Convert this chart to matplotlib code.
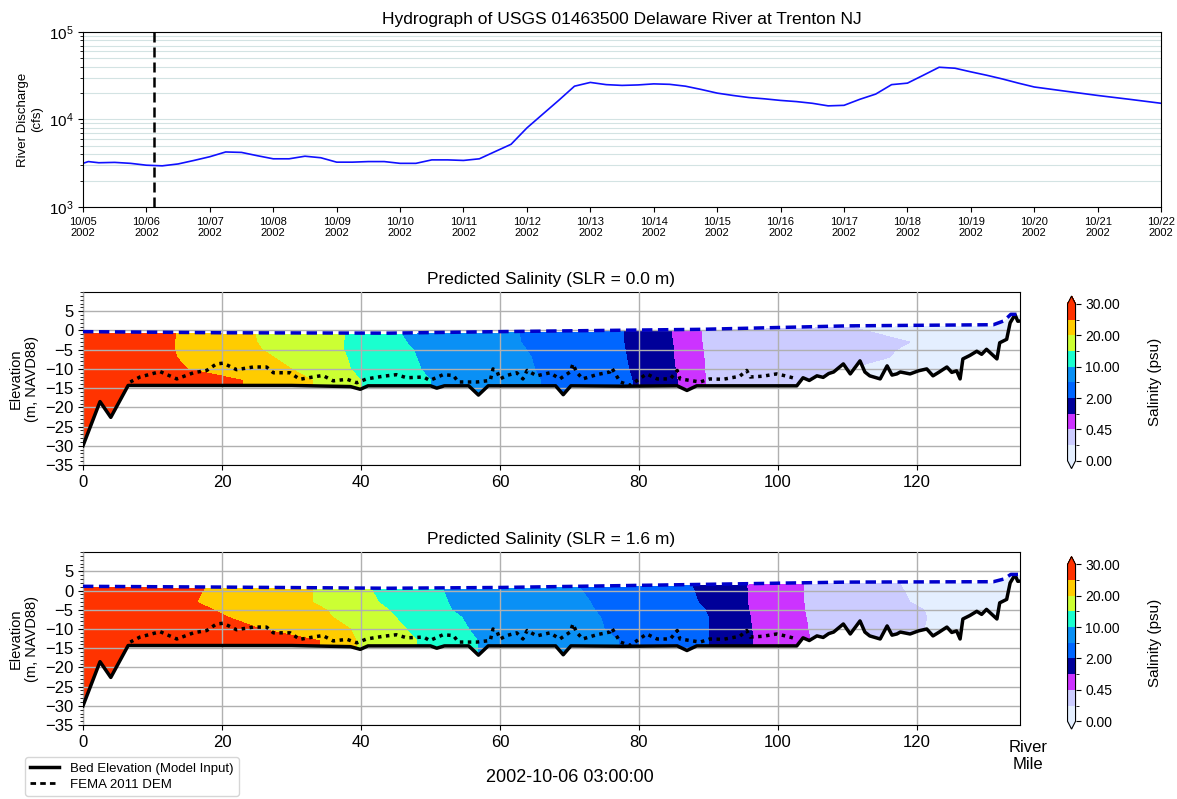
import numpy as np
import matplotlib
matplotlib.use('Agg')
import matplotlib.pyplot as plt
import matplotlib.dates as mdates
from matplotlib.colors import ListedColormap, BoundaryNorm
from matplotlib.ticker import AutoMinorLocator, LogLocator, NullFormatter
from matplotlib.lines import Line2D
from datetime import datetime

plt.rcParams['font.family'] = ['Liberation Sans', 'DejaVu Sans']

# ---- hydrograph (USGS 01463500) ----
q_time = ['2002-10-05 00', '2002-10-05 02', '2002-10-05 06', '2002-10-05 12', '2002-10-05 18',
          '2002-10-06 00', '2002-10-06 06', '2002-10-06 12', '2002-10-06 18',
          '2002-10-07 00', '2002-10-07 06', '2002-10-07 12', '2002-10-07 18',
          '2002-10-08 00', '2002-10-08 06', '2002-10-08 12', '2002-10-08 18',
          '2002-10-09 00', '2002-10-09 06', '2002-10-09 12', '2002-10-09 18',
          '2002-10-10 00', '2002-10-10 06', '2002-10-10 12', '2002-10-10 18',
          '2002-10-11 00', '2002-10-11 06', '2002-10-11 12', '2002-10-11 18',
          '2002-10-12 00', '2002-10-12 06', '2002-10-12 12', '2002-10-12 18',
          '2002-10-13 00', '2002-10-13 06', '2002-10-13 12', '2002-10-13 18',
          '2002-10-14 00', '2002-10-14 06', '2002-10-14 12', '2002-10-14 18',
          '2002-10-15 00', '2002-10-15 06', '2002-10-15 12', '2002-10-15 18',
          '2002-10-16 00', '2002-10-16 06', '2002-10-16 12', '2002-10-16 18',
          '2002-10-17 00', '2002-10-17 06', '2002-10-17 12', '2002-10-17 18',
          '2002-10-18 00', '2002-10-18 06', '2002-10-18 12', '2002-10-18 18',
          '2002-10-19 00', '2002-10-19 06', '2002-10-19 12', '2002-10-19 18',
          '2002-10-20 00', '2002-10-20 12', '2002-10-21 00', '2002-10-21 12', '2002-10-22 00']
q_cfs = [3150, 3300, 3200, 3230, 3150,
         3000, 2950, 3100, 3400,
         3750, 4250, 4200, 3850,
         3550, 3550, 3800, 3650,
         3250, 3250, 3300, 3300,
         3150, 3150, 3450, 3450,
         3400, 3550, 4300, 5200,
         8000, 11500, 16500, 24000,
         26500, 25000, 24500, 24800,
         25500, 25200, 24000, 22000,
         20000, 18800, 17800, 17200,
         16500, 16000, 15300, 14300,
         14500, 17000, 19500, 25000,
         26000, 32000, 39500, 38500,
         35000, 32000, 29000, 26000,
         23500, 21000, 18800, 17000, 15300]
now_time = '2002-10-06 03:00:00'

# ---- river profile ----
bed_mile = [0, 2.45, 4.0, 6.5, 30, 38.5, 39.9, 41, 50, 50.9, 52, 55.5, 56.9, 58.3, 68, 69.1, 70.2,
            77.7, 85.5, 86.9, 88.3, 102.7, 103.6, 104.5, 105.6, 106.5, 107.3, 108, 109.4, 110.4,
            111.8, 112.5, 113.2, 114.7, 115.7, 116.4, 117.1, 117.6, 119, 120.2, 121.4, 122.3, 123.2,
            124.3, 125.0, 125.7, 126.2, 126.6, 127.6, 128.6, 129.3, 130, 131.5, 131.9, 132.9, 133.4,
            134.1, 134.5, 135]
bed_elev = [-30, -18.5, -22.6, -14.3, -14.3, -14.6, -15.3, -14.4, -14.4, -15.0, -14.4, -14.4, -16.8,
            -14.4, -14.4, -16.7, -14.4, -14.5, -14.4, -15.6, -14.4, -14.4, -12.3, -13.0, -11.8, -12.2,
            -11.2, -10.8, -8.7, -11.3, -7.9, -10.8, -11.8, -12.6, -9.2, -11.6, -11.3, -10.8, -11.3,
            -10.5, -10, -11.8, -10.8, -9.5, -10.9, -10.5, -12.6, -7.4, -6.5, -5.4, -6.2, -4.9, -7.4,
            -3.2, -2.3, 2, 4.1, 2.4, 2.5]

fema_mile = [6.8, 8.2, 11.1, 13.5, 15.9, 17.8, 19.2, 20.2, 22.1, 24.5, 26.4, 27.4, 29.8, 31.2, 33.1,
             34.5, 36, 38, 39.4, 40.8, 43.2, 45.1, 46.6, 49, 49.9, 51.8, 53.3, 54, 56.7, 58.6, 59,
             59.6, 60, 61, 62.4, 63.3, 63.9, 65.3, 67.2, 68.6, 70.1, 70.5, 71, 71.9, 73.9, 75.8,
             76.1, 77.3, 78.7, 81.1, 82.6, 84.5, 85.5, 85.9, 88.8, 90.2, 92.1, 94.5, 95.5, 96,
             97.8, 99.8, 100.8, 101.7, 102.7]
fema_elev = [-13.4, -12.1, -10.7, -12.6, -11, -10.4, -8.7, -8.5, -10.2, -9.5, -9.5, -11, -11, -12.7,
             -12.1, -11.7, -13.1, -12.7, -13.6, -12.6, -11.9, -11.5, -12.3, -12.1, -13, -11.5, -11.7,
             -13.4, -13.4, -13, -10, -10.8, -12.6, -11.7, -11, -12.6, -10.4, -11.8, -11, -12.6,
             -10.8, -8.7, -10.8, -12.6, -11.5, -10.8, -9.8, -13.4, -14.3, -11.3, -12.6, -12.6,
             -10.4, -12.6, -13.4, -12.6, -12.7, -11.9, -10.4, -12.1, -11.9, -11.3, -11.7, -12.1, -12.6]

surf_mile = [0, 20, 44, 60, 89, 110, 131, 132.5, 133.5, 135]
surf_slr0 = [-0.3, -0.6, -0.7, -0.3, 0.3, 1.2, 1.5, 2.5, 4.2, 4.2]
surf_slr16 = [1.1, 0.9, 0.6, 0.8, 1.6, 2.2, 2.3, 3.0, 4.2, 4.2]

# salinity isohaline positions (river mile) at reference elevations
sal_levels = [0, 0.2, 0.45, 1, 2, 5, 10, 15, 20, 25, 30]
sal_colors = ['#e4efff', '#ccccff', '#cc33ff', '#000099', '#0066ff', '#0a90f5',
              '#1affcf', '#ccff33', '#ffcc00', '#ff3300']
iso_z = [-35, -13, -10, -7, -5, -3, 2]
iso_vals = [25, 20, 15, 10, 5, 2, 1, 0.45, 0.2]
iso_slr0 = [
    [23, 23, 15, 13.5, 13.2, 13.2, 13.5],
    [33, 33, 30, 27.5, 25.8, 25, 24.5],
    [40, 40, 38.5, 38, 37.5, 37.5, 38],
    [50, 50, 48.6, 48, 47.5, 46.5, 45],
    [65.8, 65.8, 65, 64.5, 63.8, 63, 62.5],
    [79, 79, 78.5, 78.2, 78, 77.8, 77.7],
    [85.5, 85.5, 85.2, 85, 85, 84.8, 84.5],
    [89.6, 89.6, 89.4, 89.3, 89.2, 89, 89],
    [104, 104, 110, 116, 117, 119, 108],
]
iso_slr16 = [
    [34, 34, 25.5, 21, 18.7, 16.4, 17.8],
    [39.3, 39.3, 38.5, 36, 35, 33, 33.1],
    [48, 48, 46.5, 45, 44, 42.5, 41],
    [56.7, 56.7, 55.5, 54.5, 53, 52.5, 51.4],
    [77, 77, 75, 74.5, 73.6, 73, 71],
    [90, 90, 90, 90, 89.5, 88.5, 87.5],
    [96.4, 96.4, 96.2, 96, 95.8, 95.6, 95.5],
    [104.6, 104.6, 104.3, 104, 103.8, 103.7, 103.6],
    [120.4, 120.4, 121, 121.4, 121, 119, 117.5],
]


def salinity_field(iso, surf):
    x = np.linspace(0, 135, 1351)
    z = np.linspace(-35, 10, 451)
    S = np.zeros((len(z), len(x)))
    for i, zz in enumerate(z):
        pos = [np.interp(zz, iso_z, row) for row in iso]
        S[i] = np.interp(x, [0] + pos + [135], [29.9] + iso_vals + [0.01])
    X, Z = np.meshgrid(x, z)
    bed = np.interp(x, bed_mile, bed_elev)
    top = np.interp(x, surf_mile, surf) - 0.3
    mask = (Z < bed[None, :]) | (Z > top[None, :])
    return X, Z, np.ma.masked_array(S, mask)


fig = plt.figure(figsize=(11.77, 7.99), dpi=100)

# ---- top: hydrograph ----
ax0 = fig.add_axes([0.0705, 0.741, 0.916, 0.219])
t = [datetime.strptime(s, '%Y-%m-%d %H') for s in q_time]
ax0.plot(t, q_cfs, color='#1010ff', lw=1.2)
tnow = datetime.strptime(now_time, '%Y-%m-%d %H:%M:%S')
ax0.axvline(tnow, color='k', lw=1.8, ls=(0, (4, 2)))
ax0.set_yscale('log')
ax0.set_ylim(1e3, 1e5)
ax0.set_xlim(datetime(2002, 10, 5), datetime(2002, 10, 22))
ax0.yaxis.set_minor_locator(LogLocator(base=10, subs=np.arange(2, 10)))
ax0.yaxis.set_minor_formatter(NullFormatter())
ax0.grid(True, which='both', axis='y', color='#d3e3e3', lw=0.8)
ax0.xaxis.set_major_locator(mdates.DayLocator())
ax0.xaxis.set_major_formatter(mdates.DateFormatter('%m/%d\n%Y'))
ax0.tick_params(axis='x', labelsize=8)
ax0.tick_params(axis='y', labelsize=11)
ax0.set_ylabel('River Discharge\n(cfs)', fontsize=9.5)
ax0.set_title('Hydrograph of USGS 01463500 Delaware River at Trenton NJ', fontsize=12.5)

cmap = ListedColormap(sal_colors)
cmap.set_under('#e4efff')
cmap.set_over('#ff3300')
norm = BoundaryNorm(sal_levels, cmap.N)

panels = [
    (0.418, 0.4135, iso_slr0, surf_slr0, 'Predicted Salinity (SLR = 0.0 m)'),
    (0.0925, 0.0875, iso_slr16, surf_slr16, 'Predicted Salinity (SLR = 1.6 m)'),
]
for bottom, cb_bottom, iso, surf, title in panels:
    ax = fig.add_axes([0.0705, bottom, 0.796, 0.2165])
    X, Z, S = salinity_field(iso, surf)
    cs = ax.contourf(X, Z, S, levels=sal_levels, cmap=cmap, norm=norm, extend='both')
    ax.plot(bed_mile, bed_elev, color='k', lw=2.5, zorder=5)
    ax.plot(fema_mile, fema_elev, color='k', lw=2.5, ls=(0, (1, 1.3)), zorder=5)
    ax.plot(surf_mile, surf, color='#0000cc', lw=2.5, ls=(0, (3, 1.6)), zorder=5)
    ax.set_xlim(0, 134.8)
    ax.set_ylim(-35, 10)
    ax.set_yticks(np.arange(-35, 6, 5))
    ax.set_xticks(np.arange(0, 121, 20))
    ax.yaxis.set_minor_locator(AutoMinorLocator(5))
    ax.grid(True, color='#b0b0b0', lw=1, zorder=3)
    ax.set_axisbelow(False)
    ax.tick_params(labelsize=12)
    ax.set_ylabel('Elevation\n(m, NAVD88)', fontsize=10.5)
    ax.set_title(title, fontsize=12.5)

    cax = fig.add_axes([0.907, cb_bottom, 0.0068, 0.216])
    cb = fig.colorbar(cs, cax=cax, ticks=[0, 0.45, 2, 10, 20, 30], format='%.2f')
    cb.ax.tick_params(labelsize=10)
    cb.set_label('Salinity (psu)', fontsize=11, labelpad=20)

fig.text(1028 / 1177, 1 - 756 / 799, 'River\nMile', ha='center', va='center', fontsize=12)
fig.text(570 / 1177, 1 - 777 / 799, now_time, ha='center', va='center', fontsize=13)

handles = [Line2D([], [], color='k', lw=2.5),
           Line2D([], [], color='k', lw=2, ls=(0, (2, 1.5)))]
fig.legend(handles, ['Bed Elevation (Model Input)', 'FEMA 2011 DEM'],
           loc='upper left', bbox_to_anchor=(25 / 1177, 1 - 757 / 799),
           fontsize=9.5, frameon=True, borderaxespad=0, handlelength=2.2,
           labelspacing=0.3)

fig.savefig('out.png', dpi=100)
